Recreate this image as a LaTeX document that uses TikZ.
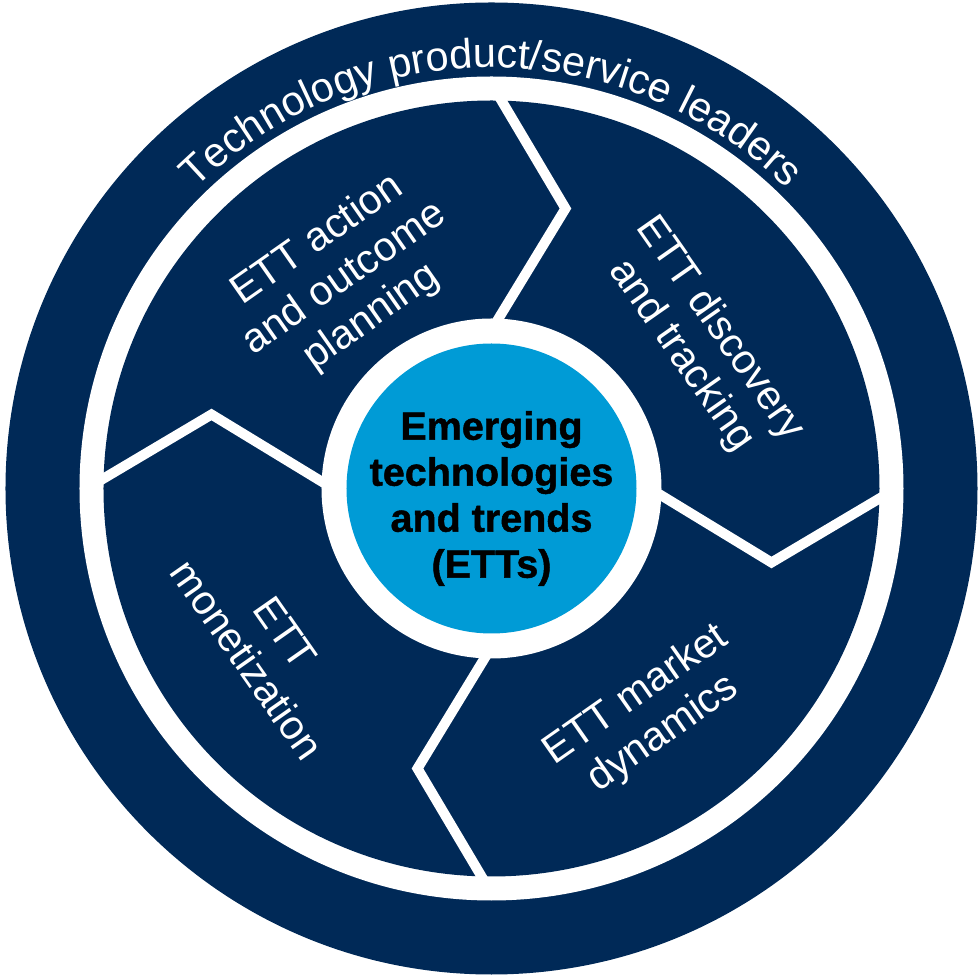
\documentclass[tikz,border=0pt]{standalone}
\usepackage{fontspec}
\setmainfont{Liberation Sans}
\newfontfamily\heavyfont[BoldFeatures={FakeBold=1.2}]{Liberation Sans}
\usetikzlibrary{decorations.text}
\definecolor{navy}{HTML}{002957}
\definecolor{sky}{HTML}{009BD6}
\begin{document}
\begin{tikzpicture}[x=1pt,y=1pt,
  paneltext/.style={text=white, font=\fontsize{41}{47}\selectfont, align=center, inner sep=0pt},
  divider/.style={draw=white, line width=10pt, line join=miter, miter limit=10}]
\useasboundingbox (-491.5,-487.5) rectangle (488.5,488.5);
\fill[navy] (0,0) circle[radius=486];
\fill[white] (0,0) circle[radius=412];
\fill[navy] (0,0) circle[radius=388];
\foreach \a in {0,-90,-180,-270}{
  \draw[divider, rotate=\a] (4,398) -- (74,280) -- (4,165);
}
\fill[white] (0,0) circle[radius=170];
\node[circle, fill=sky, minimum size=290pt, inner sep=0pt] (core) at (0,0) {};
\node[font=\heavyfont\bfseries\fontsize{39.5}{46}\selectfont, align=center, inner sep=0pt] (coretitle) at (0,-10) {Emerging\\technologies\\and trends\\(ETTs)};
\node[paneltext, rotate=35] (plan) at (125:256) {ETT action\\and outcome\\planning};
\node[paneltext, rotate=-55] (disc) at (35:255) {ETT discovery\\and tracking};
\node[paneltext, rotate=35] (market) at (-55:276) {ETT market\\dynamics};
\node[paneltext, rotate=-55] (money) at (215:275) {ETT\\monetization};
\path[decorate, decoration={text along path, text align=center, text color=white,
  text={|\fontsize{41.5}{47}\selectfont|Technology product/service leaders}}]
  (170:421) arc[start angle=170, end angle=10, radius=421];
\end{tikzpicture}
\end{document}
